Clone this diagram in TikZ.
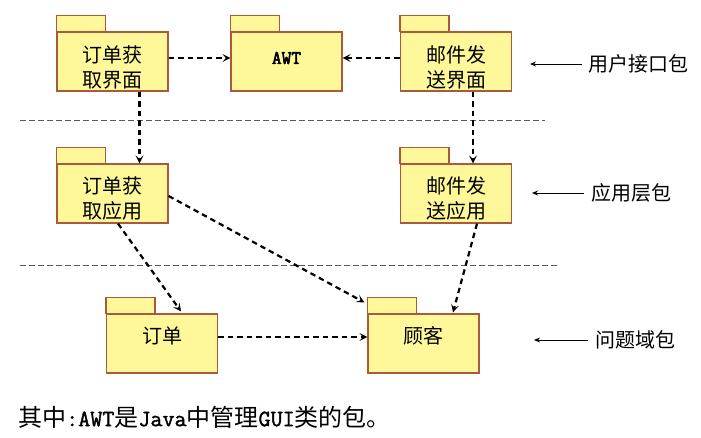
\documentclass[tikz,border=0pt]{standalone}
\usepackage{fontspec}
\setmainfont{Noto Sans CJK SC}
\newfontfamily\lmmono[FakeBold=1.5]{Latin Modern Mono}
\newfontfamily\lmmonob[FakeBold=3]{Latin Modern Mono}
\usetikzlibrary{arrows.meta}
\definecolor{pkgfill}{RGB}{255,248,155}
\definecolor{pkgline}{RGB}{170,90,60}
\newcommand\monotxt{\fontsize{23.4}{28}\selectfont\lmmono}
\begin{document}
\begin{tikzpicture}[x=1pt,y=-1pt,
 pkg/.style={draw=pkgline,fill=pkgfill,line width=1.2pt,minimum width=111pt,minimum height=59pt,inner sep=0pt},
 pkgtab/.style={draw=pkgline,fill=pkgfill,line width=1.2pt},
 ptxt/.style={font=\fontsize{20}{25}\selectfont,align=center,inner sep=0pt},
 dep/.style={draw=black,line width=2.2pt,dash pattern=on 5.5pt off 4pt,-{Stealth[length=8pt,width=8pt,inset=3.5pt]}},
 sepline/.style={draw=gray!70!black,line width=0.9pt,dash pattern=on 6pt off 3pt},
 lbl/.style={font=\fontsize{20}{24}\selectfont,anchor=west,inner sep=0pt},
 lblarr/.style={draw=black,line width=0.9pt,-{Stealth[length=6pt,width=5pt]}},
]
\useasboundingbox (0,0) rectangle (701,438);

% package bodies
\node[pkg] (b1) at (112.5,61.5) {};
\node[pkg] (awt) at (286.5,61.5) {};
\node[pkg] (m1) at (456,61.5) {};
\node[pkg] (b2) at (112.5,193.5) {};
\node[pkg] (m2) at (456,193.5) {};
\node[pkg] (ord) at (162,343.5) {};
\node[pkg] (cust) at (423.5,343.5) {};

% tabs
\foreach \p in {b1,awt,m1,b2,m2,ord,cust}{
  \draw[pkgtab] (\p.north west) rectangle ++(49,-16);
}

% package texts
\node[ptxt] (t1) at ([yshift=-6pt]b1.center) {订单获\\取界面};
\node[ptxt,font=\fontsize{19}{22}\selectfont\lmmonob] (tawt) at ([yshift=3.5pt]awt.center) {AWT};
\node[ptxt] (tm1) at ([yshift=-6pt]m1.center) {邮件发\\送界面};
\node[ptxt] (t2) at ([yshift=-5pt]b2.center) {订单获\\取应用};
\node[ptxt] (tm2) at ([yshift=-5pt]m2.center) {邮件发\\送应用};
\node[ptxt] (tord) at ([yshift=8pt]ord.center) {订单};
\node[ptxt] (tcust) at ([yshift=8pt]cust.center) {顾客};

% separators
\draw[sepline] (20,120) -- (545,120);
\draw[sepline] (20,265) -- (558,265);

% dependencies
\draw[dep] ([yshift=3.5pt]b1.east) -- ([yshift=3.5pt]awt.west);
\draw[dep] ([yshift=3.5pt]m1.west) -- ([yshift=3.5pt]awt.east);
\draw[dep] ([xshift=27pt]b1.south) -- ([xshift=27pt]b2.north);
\draw[dep] ([xshift=17pt]m1.south) -- ([xshift=17pt]m2.north);
\draw[dep] ([xshift=5.5pt]b2.south) -- ([xshift=19pt,yshift=2pt]ord.north);
\draw[dep] ([yshift=-2.5pt]b2.east) -- ([xshift=-3pt,yshift=11pt]cust.north west);
\draw[dep] ([xshift=21pt]m2.south) -- ([xshift=29.5pt,yshift=1pt]cust.north);
\draw[dep] ([yshift=6.5pt]ord.east) -- ([yshift=6.5pt]cust.west);

% layer labels
\node[lbl] (l1) at (588,64) {用户接口包};
\node[lbl] (l2) at (591,193) {应用层包};
\node[lbl] (l3) at (595,340) {问题域包};
\coordinate (e1) at (530,64);
\coordinate (e2) at (532,193);
\coordinate (e3) at (534,340);
\draw[lblarr] ([xshift=-6pt]l1.west) -- (e1);
\draw[lblarr] ([xshift=-7pt]l2.west) -- (e2);
\draw[lblarr] ([xshift=-7pt]l3.west) -- (e3);

% note
\node[anchor=west,inner sep=0pt,font=\fontsize{24}{28}\selectfont] (note) at (18,417)
  {其中{\monotxt :AWT}是{\monotxt Java}中管理{\monotxt GUI}类的包。};
\end{tikzpicture}
\end{document}
